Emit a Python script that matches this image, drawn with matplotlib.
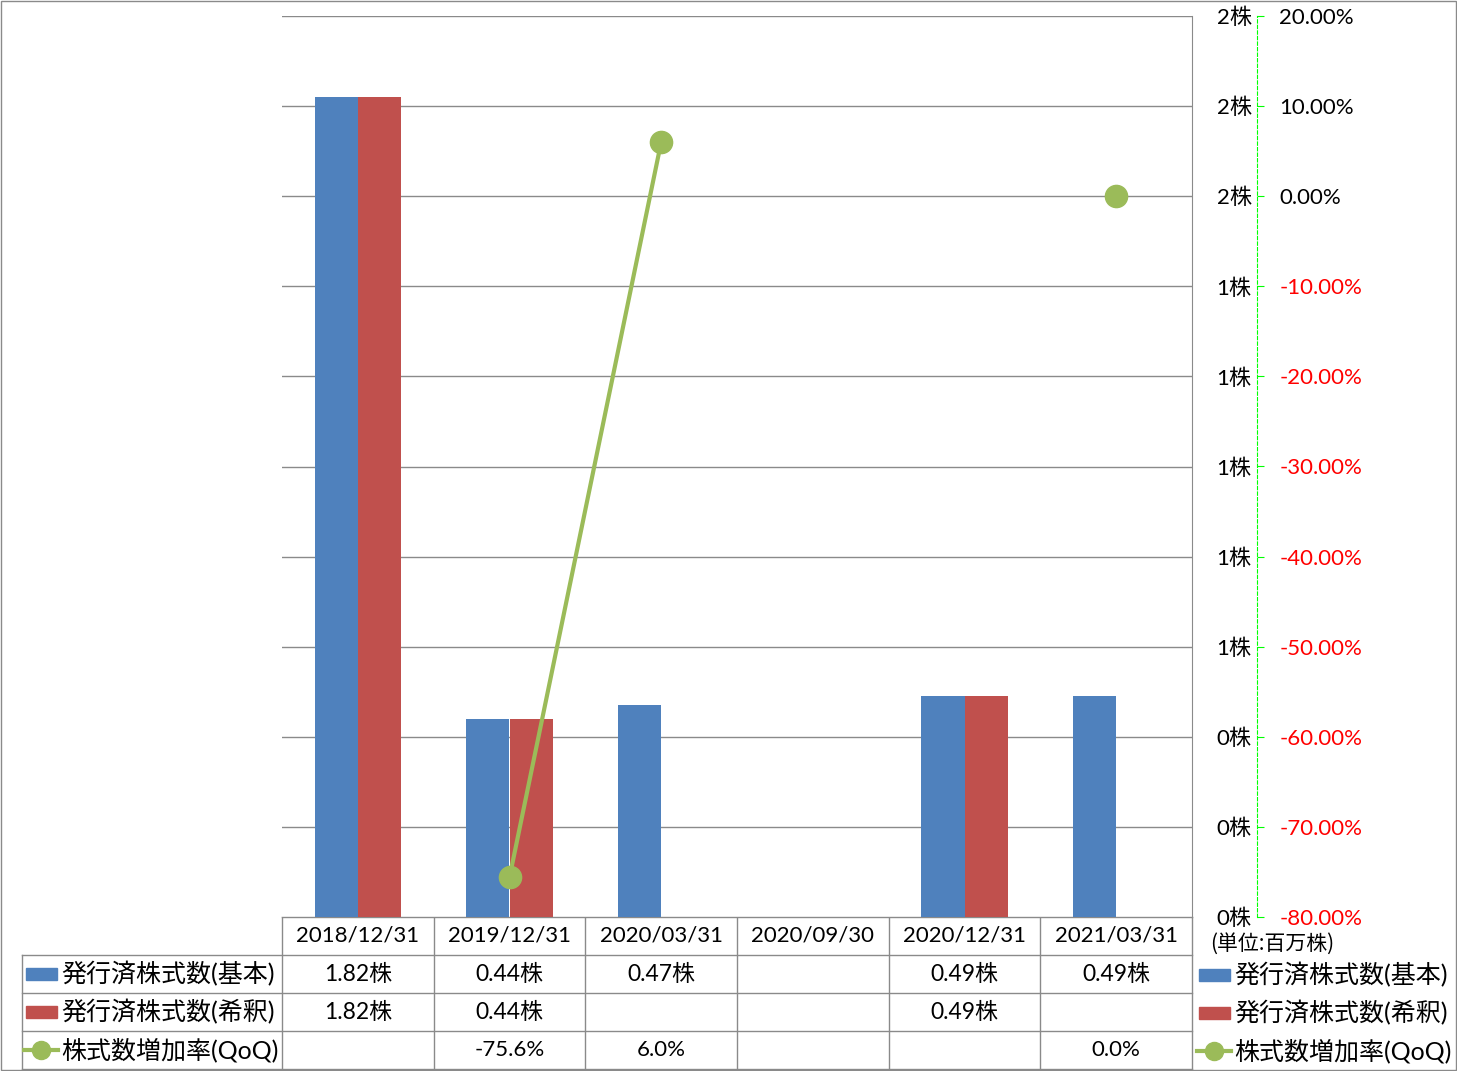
import numpy as np
import matplotlib
matplotlib.use('Agg')
import matplotlib.pyplot as plt
from matplotlib.patches import Rectangle
from matplotlib.ticker import FuncFormatter

plt.rcParams['font.family'] = ['Lato', 'Noto Sans CJK JP', 'DejaVu Sans']

# data
dates = ['2018/12/31', '2019/12/31', '2020/03/31', '2020/09/30', '2020/12/31', '2021/03/31']
basic = [1.82, 0.44, 0.47, np.nan, 0.49, 0.49]
diluted = [1.82, 0.44, np.nan, np.nan, 0.49, np.nan]
qoq = [np.nan, -75.6, 6.0, np.nan, np.nan, 0.0]
series_names = ['発行済株式数(基本)', '発行済株式数(希釈)', '株式数増加率(QoQ)']
unit_label = '(単位:百万株)'

BLUE = '#4F81BD'
RED = '#C0504D'
GREEN = '#9BBB59'
GRAY = '#8a8a8a'
FS = 16

W, H = 1457, 1071
fig = plt.figure(figsize=(W / 100, H / 100), dpi=100)

# overlay axes in pixel coordinates for the data table and legend
tax = fig.add_axes([0, 0, 1, 1])
tax.set_xlim(0, W)
tax.set_ylim(H, 0)
tax.axis('off')

px0, px1, py0, py1 = 282, 1192, 16, 917
ax = fig.add_axes([px0 / W, 1 - py1 / H, (px1 - px0) / W, (py1 - py0) / H])
x = np.arange(len(dates))
w = 0.284
ax.bar(x - w / 2, basic, w, color=BLUE, zorder=2)
ax.bar(x + w / 2, diluted, w, color=RED, zorder=2)
ax.set_xlim(-0.5, len(dates) - 0.5)
ax.set_ylim(0, 2.0)
ax.set_yticks(np.arange(0, 2.01, 0.2))
ax.yaxis.grid(True, color=GRAY, lw=1)
ax.set_axisbelow(True)
ax.set_xticks([])

ax2 = ax.twinx()
ax2.plot(x, np.array(qoq) / 100, color=GREEN, lw=3, marker='o', ms=16, zorder=3)
ax2.set_ylim(-0.8, 0.2)
pct_ticks = np.round(np.arange(-0.8, 0.201, 0.1), 4)
ax2.set_yticks(pct_ticks)
ax2.yaxis.set_major_formatter(FuncFormatter(lambda v, p: f'{abs(v) * 100:.2f}%' if abs(v) < 1e-9 else f'{v * 100:.2f}%'))
for s in ['left', 'top', 'bottom']:
    ax2.spines[s].set_visible(False)
ax2.spines['right'].set_position(('outward', 47))
ax2.spines['right'].set_color('#00ff00')
ax2.spines['right'].set_linestyle((0, (3, 2)))
ax2.tick_params(axis='y', length=5, color='#00ff00', pad=11, labelsize=FS)

# primary axis labels sit right of the plot (twinx resets tick side)
for s in ['left', 'top', 'bottom']:
    ax.spines[s].set_visible(False)
ax.spines['right'].set_color(GRAY)
ax.yaxis.tick_right()
ax.yaxis.set_major_formatter(FuncFormatter(lambda v, p: f'{v:.0f}株'))
ax.tick_params(axis='y', length=0, pad=43, labelsize=FS)

fig.canvas.draw()
for t in ax.yaxis.get_major_ticks():
    t.label2.set_horizontalalignment('right')
for t, v in zip(ax2.yaxis.get_major_ticks(), pct_ticks):
    t.label2.set_color('red' if v < -1e-9 else 'black')

# data table
col_w = (px1 - px0) / len(dates)
rows_y = [917, 955, 993, 1031, 1069]
lkw = dict(color=GRAY, lw=1)
tax.plot([px0, px1], [rows_y[0], rows_y[0]], **lkw)
for yy in rows_y[1:]:
    tax.plot([22, px1], [yy, yy], **lkw)
for k in range(len(dates) + 1):
    xx = px0 + k * col_w
    tax.plot([xx, xx], [rows_y[0], rows_y[-1]], **lkw)
tax.plot([22, 22], [rows_y[1], rows_y[-1]], **lkw)

for i, d in enumerate(dates):
    cx = px0 + (i + 0.5) * col_w
    tax.text(cx, 936, d, ha='center', va='center', fontsize=FS)
    if not np.isnan(basic[i]):
        tax.text(cx, 974, f'{basic[i]:.2f}株', ha='center', va='center', fontsize=16.5)
    if not np.isnan(diluted[i]):
        tax.text(cx, 1012, f'{diluted[i]:.2f}株', ha='center', va='center', fontsize=16.5)
    if not np.isnan(qoq[i]):
        tax.text(cx, 1050, f'{qoq[i]:.1f}%', ha='center', va='center', fontsize=FS)


def legend_keys(x0, ys):
    tax.add_patch(Rectangle((x0 + 2, ys[0] - 6), 31, 12, color=BLUE))
    tax.add_patch(Rectangle((x0 + 2, ys[1] - 6), 31, 12, color=RED))
    tax.plot([x0, x0 + 34], [ys[2], ys[2]], color=GREEN, lw=3)
    tax.plot([x0 + 17], [ys[2]], 'o', color=GREEN, ms=13)
    for yy, name in zip(ys, series_names):
        tax.text(x0 + 37, yy, name, ha='left', va='center', fontsize=18)


legend_keys(24, [974, 1012, 1050])
legend_keys(1197, [975, 1013, 1051])
tax.text(1210, 944, unit_label, ha='left', va='center', fontsize=15,
         family=['Noto Sans CJK JP'])

# outer border
tax.add_patch(Rectangle((0.5, 0.5), W - 1.5, H - 1.5, fill=False, ec=GRAY, lw=1))

fig.savefig('out.png', dpi=100)
